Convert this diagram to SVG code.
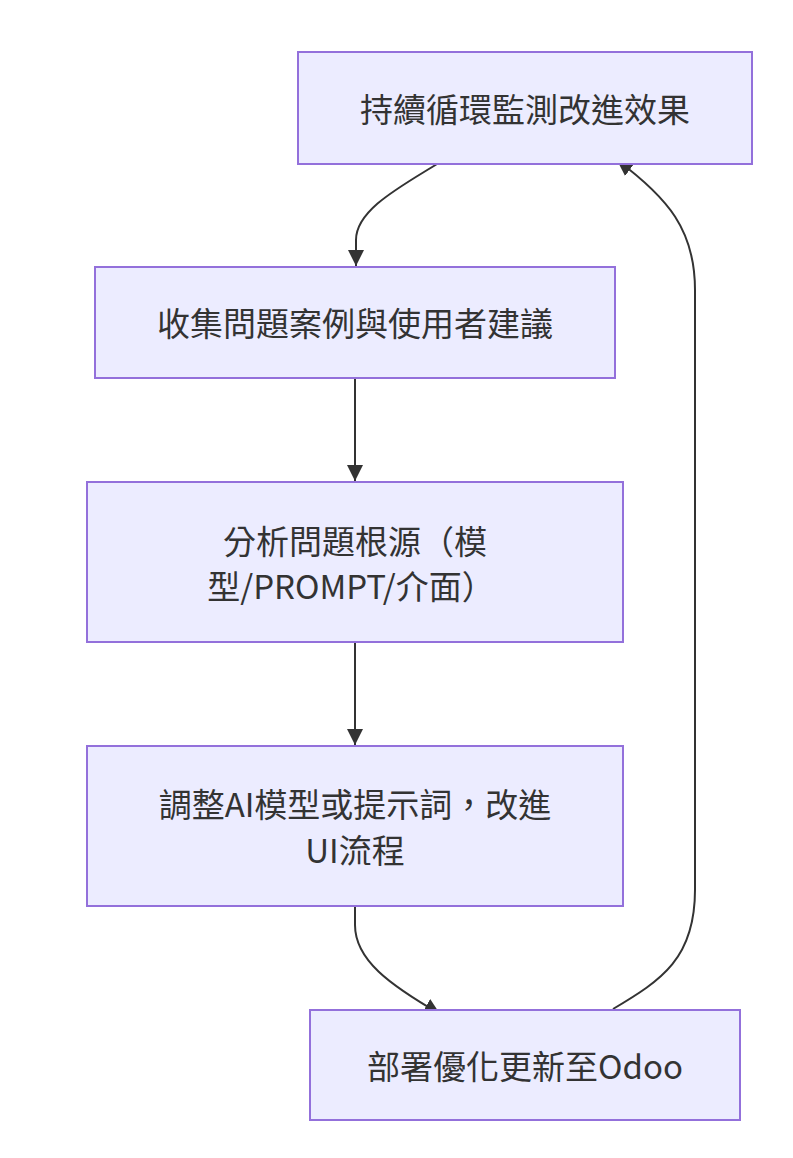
<svg xmlns="http://www.w3.org/2000/svg" width="793" height="1158" viewBox="0 0 793 1158">
<style>
.node rect{fill:#ECECFF;stroke:#9370DB;stroke-width:2}
.node text{font-family:"Trebuchet MS","Noto Sans CJK TC","Noto Sans CJK SC",sans-serif;font-size:33px;fill:#333;text-anchor:middle;dominant-baseline:central}
.edge{fill:none;stroke:#333;stroke-width:2}
</style>
<defs>
<marker id="arrow" viewBox="0 0 10 10" refX="10" refY="5" markerWidth="8" markerHeight="8" orient="auto" markerUnits="strokeWidth">
<path d="M0,0 L10,5 L0,10 z" fill="#333"/>
</marker>
</defs>
<rect width="793" height="1158" fill="#fff"/>
<g id="connectors">
<path class="edge" d="M437,164 C400,187 356,210 356,240 L356,266" marker-end="url(#arrow)"/>
<path class="edge" d="M355,378 L355,481" marker-end="url(#arrow)"/>
<path class="edge" d="M355,642 L355,745" marker-end="url(#arrow)"/>
<path class="edge" d="M355,906 L355,925 C355,960 390,985 440,1014" marker-end="url(#arrow)"/>
<path class="edge" d="M613,1009 C662,980 695,958 695,890 L695,290 C695,230 668,198 617,160" marker-end="url(#arrow)"/>
</g>
<g id="n1" class="node"><rect x="298" y="52" width="454" height="112"/><text x="525" y="108">持續循環監測改進效果</text></g>
<g id="n2" class="node"><rect x="95" y="267" width="520" height="111"/><text x="355" y="322">收集問題案例與使用者建議</text></g>
<g id="n3" class="node"><rect x="87" y="482" width="536" height="160"/><text x="355" y="540">分析問題根源（模</text><text x="351" y="585">型/PROMPT/介面）</text></g>
<g id="n4" class="node"><rect x="87" y="746" width="536" height="160"/><text x="355" y="803">調整AI模型或提示詞，改進</text><text x="355" y="849">UI流程</text></g>
<g id="n5" class="node"><rect x="310" y="1010" width="430" height="110"/><text x="525" y="1065">部署優化更新至Odoo</text></g>
</svg>
